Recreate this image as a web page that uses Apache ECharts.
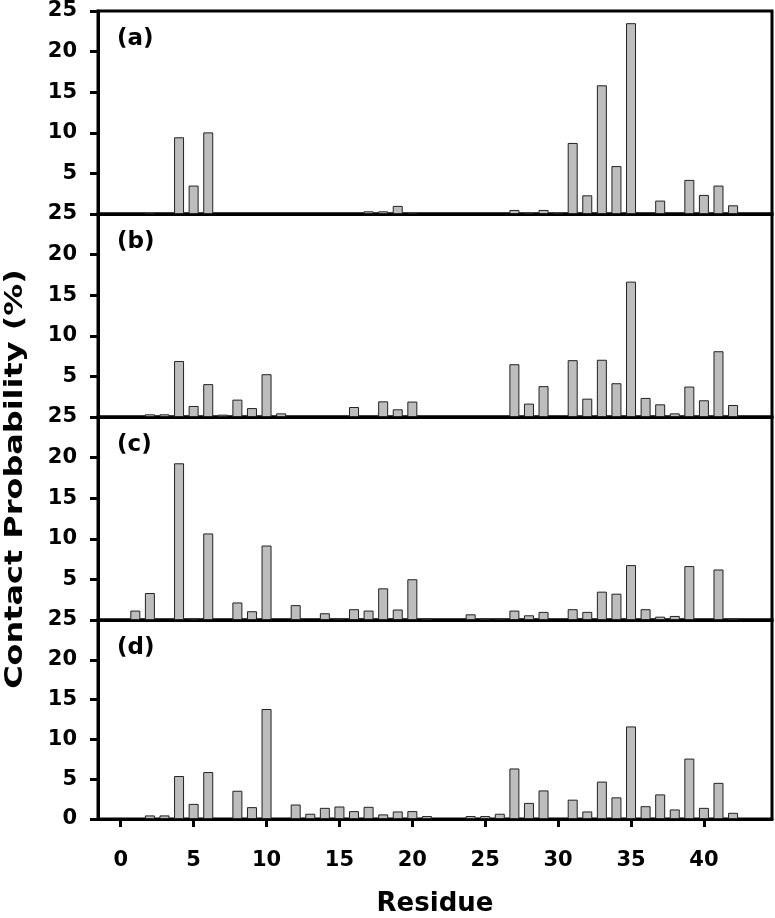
<!DOCTYPE html>
<html>
<head>
<meta charset="utf-8">
<script src="https://cdn.jsdelivr.net/npm/echarts@6/dist/echarts.min.js"></script>
<style>
  html, body { margin: 0; padding: 0; background: #fff; }
  #chart { width: 775px; height: 918px; }
</style>
</head>
<body>
<div id="chart"></div>
<script>
// residue numbers and contact probabilities (%) per panel
const resA = [2, 4, 5, 6, 17, 18, 19, 20, 27, 28, 29, 30, 31, 32, 33, 34, 35, 37, 39, 40, 41, 42];
const probA = [0.12, 9.45, 3.5, 10.05, 0.33, 0.33, 1.0, 0.12, 0.5, 0.12, 0.5, 0.1, 8.75, 2.3, 15.85, 5.9, 23.5, 1.65, 4.2, 2.35, 3.5, 1.07];

const resB = [2, 3, 4, 5, 6, 7, 8, 9, 10, 11, 16, 18, 19, 20, 27, 28, 29, 31, 32, 33, 34, 35, 36, 37, 38, 39, 40, 41, 42];
const probB = [0.33, 0.33, 6.9, 1.36, 4.05, 0.29, 2.14, 1.1, 5.27, 0.45, 1.23, 1.93, 0.95, 1.9, 6.5, 1.65, 3.8, 7.0, 2.26, 7.05, 4.16, 16.67, 2.35, 1.56, 0.45, 3.75, 2.06, 8.1, 1.48];

const resC = [1, 2, 4, 5, 6, 8, 9, 10, 12, 14, 15, 16, 17, 18, 19, 20, 21, 24, 25, 26, 27, 28, 29, 31, 32, 33, 34, 35, 36, 37, 38, 39, 41, 42];
const probC = [1.16, 3.32, 19.3, 0.2, 10.66, 2.16, 1.08, 9.17, 1.83, 0.83, 0.2, 1.33, 1.16, 3.9, 1.29, 5.02, 0.17, 0.7, 0.2, 0.2, 1.16, 0.58, 1.0, 1.33, 1.0, 3.49, 3.24, 6.76, 1.33, 0.41, 0.5, 6.64, 6.22, 0.17];

const resD = [2, 3, 4, 5, 6, 8, 9, 10, 12, 13, 14, 15, 16, 17, 18, 19, 20, 21, 24, 25, 26, 27, 28, 29, 31, 32, 33, 34, 35, 36, 37, 38, 39, 40, 41, 42];
const probD = [0.45, 0.45, 5.4, 1.9, 5.9, 3.55, 1.49, 13.82, 1.82, 0.66, 1.4, 1.57, 0.99, 1.53, 0.58, 0.95, 0.99, 0.37, 0.37, 0.37, 0.66, 6.35, 2.02, 3.59, 2.43, 0.95, 4.7, 2.72, 11.63, 1.61, 3.09, 1.2, 7.59, 1.4, 4.54, 0.78];

const panelLabels = ['(a)', '(b)', '(c)', '(d)'];
const xTicks = [0, 5, 10, 15, 20, 25, 30, 35, 40];

const panels = [[resA, probA], [resB, probB], [resC, probC], [resD, probD]];

const font = 'DejaVu Sans';
const gridLeft = 98, gridRight = 3, gridTop = 11, gridH = 203;

let grids = [], xAxes = [], yAxes = [], series = [], graphics = [];

panels.forEach(([res, prob], i) => {
  const last = i === panels.length - 1;
  const top = gridTop + i * gridH;
  grids.push({
    left: gridLeft, right: gridRight, top: top, height: gridH,
    show: true, borderColor: '#000', borderWidth: 3, backgroundColor: 'transparent'
  });
  xAxes.push({
    gridIndex: i, type: 'value', min: -1.56, max: 44.67,
    splitLine: { show: false },
    axisLine: { show: true, onZero: false, lineStyle: { color: '#000', width: 3 } },
    axisTick: { show: last, customValues: xTicks, length: 8, lineStyle: { color: '#000', width: 3 } },
    axisLabel: {
      show: last, customValues: xTicks, margin: 31,
      color: '#000', fontFamily: font, fontWeight: 'bold', fontSize: 21
    },
    name: last ? 'Residue' : '', nameLocation: 'middle', nameGap: 72,
    nameTextStyle: { color: '#000', fontFamily: font, fontWeight: 'bold', fontSize: 26 }
  });
  yAxes.push({
    gridIndex: i, type: 'value', min: 0, max: 25, interval: 5,
    splitLine: { show: false },
    axisLine: { show: true, onZero: false, lineStyle: { color: '#000', width: 3 } },
    axisTick: { show: true, length: 8, lineStyle: { color: '#000', width: 3 } },
    axisLabel: {
      margin: 21, color: '#000', fontFamily: font, fontWeight: 'bold', fontSize: 21,
      formatter: v => (v === 0 && !last) ? '' : String(v)
    }
  });
  series.push({
    type: 'bar', xAxisIndex: i, yAxisIndex: i,
    data: res.map((r, k) => [r, prob[k]]),
    barWidth: 10,
    itemStyle: { color: '#bdbdbd', borderColor: '#222', borderWidth: 1 }
  });
  graphics.push({
    type: 'text', left: 117, top: top + 17,
    style: { text: panelLabels[i], fill: '#000', font: 'bold 23px "' + font + '"' }
  });
});

// y-axis title, stretched along its length like the original
graphics.push({
  type: 'text', x: 16, y: 479, rotation: Math.PI / 2, scaleX: 1.33,
  style: {
    text: 'Contact Probability (%)', fill: '#000', font: 'bold 24px "' + font + '"',
    align: 'center', verticalAlign: 'middle'
  }
});

const chart = echarts.init(document.getElementById('chart'), null, { renderer: 'canvas' });
chart.setOption({
  animation: false,
  backgroundColor: '#fff',
  grid: grids,
  xAxis: xAxes,
  yAxis: yAxes,
  series: series,
  graphic: graphics
});
</script>
</body>
</html>
